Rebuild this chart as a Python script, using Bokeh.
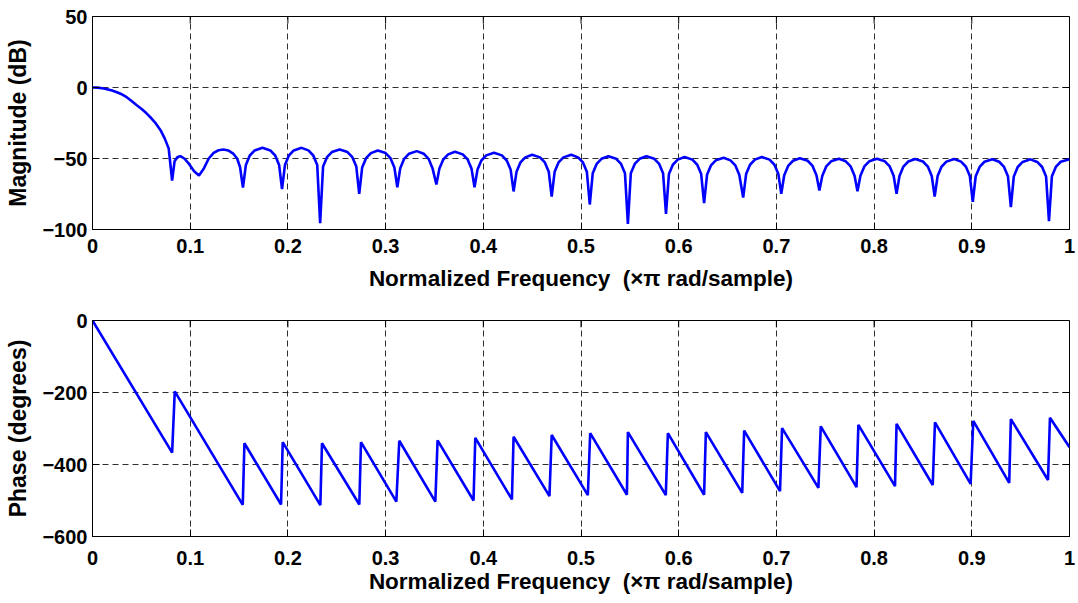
from bokeh.plotting import figure
from bokeh.layouts import column
from bokeh.models import FixedTicker, Range1d
from bokeh.embed import file_html
from bokeh.resources import INLINE

# ---------------- data ----------------
mag_freq = [0, 0.005, 0.01, 0.015, 0.02, 0.025, 0.03, 0.035, 0.04, 0.045, 0.05, 0.055, 0.06, 0.065, 0.07, 0.074, 0.078, 0.0815,
            0.084, 0.087, 0.090, 0.094, 0.099, 0.104, 0.109, 0.114, 0.119, 0.124, 0.129, 0.134, 0.139, 0.144, 0.148, 0.151,
            0.154, 0.157, 0.161, 0.166, 0.174, 0.182, 0.187, 0.191,
            0.194, 0.197, 0.201, 0.206, 0.214, 0.221, 0.226, 0.230,
            0.233, 0.236, 0.240, 0.245, 0.253, 0.261, 0.266, 0.270,
            0.273, 0.276, 0.280, 0.285, 0.292, 0.300, 0.305, 0.309,
            0.312, 0.315, 0.319, 0.324, 0.332, 0.339, 0.344, 0.348,
            0.352, 0.355, 0.359, 0.364, 0.371, 0.379, 0.384, 0.388,
            0.391, 0.394, 0.398, 0.403, 0.411, 0.419, 0.424, 0.428,
            0.431, 0.434, 0.438, 0.443, 0.450, 0.458, 0.463, 0.467,
            0.470, 0.473, 0.477, 0.482, 0.490, 0.497, 0.502, 0.506,
            0.509, 0.512, 0.516, 0.521, 0.528, 0.536, 0.541, 0.545,
            0.548, 0.551, 0.555, 0.560, 0.567, 0.575, 0.580, 0.584,
            0.587, 0.590, 0.594, 0.599, 0.606, 0.614, 0.619, 0.623,
            0.626, 0.629, 0.633, 0.638, 0.646, 0.653, 0.658, 0.662,
            0.666, 0.669, 0.673, 0.678, 0.685, 0.693, 0.698, 0.702,
            0.705, 0.708, 0.712, 0.717, 0.724, 0.732, 0.737, 0.741,
            0.744, 0.747, 0.751, 0.756, 0.764, 0.771, 0.776, 0.780,
            0.783, 0.786, 0.790, 0.795, 0.803, 0.811, 0.816, 0.820,
            0.823, 0.826, 0.830, 0.835, 0.842, 0.850, 0.855, 0.859,
            0.862, 0.865, 0.869, 0.874, 0.882, 0.889, 0.894, 0.898,
            0.901, 0.904, 0.908, 0.913, 0.921, 0.928, 0.933, 0.937,
            0.940, 0.943, 0.947, 0.952, 0.960, 0.967, 0.972, 0.976,
            0.979, 0.982, 0.986, 0.991, 1.0]
mag_db = [0, -0.1, -0.5, -1.2, -2.1, -3.3, -4.8, -6.8, -9.5, -12.3, -15, -18, -21.5, -25.5, -30.5, -36, -43, -65.5,
          -52, -49, -48.4, -50, -54, -59, -62, -57, -50, -46, -44.2, -43.7, -44.3, -46.5, -50, -56,
          -70.5, -54.5, -47.9, -44.3, -42.5, -44.3, -47.9, -54.5,
          -71.6, -54.5, -47.9, -44.3, -42.5, -44.3, -47.9, -54.5,
          -95.5, -55.7, -49.1, -45.5, -43.7, -45.5, -49.1, -55.7,
          -74.9, -56.4, -49.8, -46.2, -44.4, -46.2, -49.8, -56.4,
          -70.2, -56.8, -50.2, -46.6, -44.8, -46.6, -50.2, -56.8,
          -68.3, -57.3, -50.7, -47.1, -45.3, -47.1, -50.7, -57.3,
          -70.2, -58.0, -51.4, -47.8, -46.0, -47.8, -51.4, -58.0,
          -73.2, -59.4, -52.8, -49.2, -47.4, -49.2, -52.8, -59.4,
          -76.8, -59.4, -52.8, -49.2, -47.4, -49.2, -52.8, -59.4,
          -82.4, -60.4, -53.8, -50.2, -48.4, -50.2, -53.8, -60.4,
          -96.0, -60.4, -53.8, -50.2, -48.4, -50.2, -53.8, -60.4,
          -89.0, -61.0, -54.4, -50.8, -49.0, -50.8, -54.4, -61.0,
          -81.5, -61.5, -54.9, -51.3, -49.5, -51.3, -54.9, -61.5,
          -77.5, -61.0, -54.4, -50.8, -49.0, -50.8, -54.4, -61.0,
          -74.9, -61.8, -55.2, -51.6, -49.8, -51.6, -55.2, -61.8,
          -72.5, -62.2, -55.6, -52.0, -50.2, -52.0, -55.6, -62.2,
          -73.0, -62.2, -55.6, -52.0, -50.2, -52.0, -55.6, -62.2,
          -74.9, -62.3, -55.7, -52.1, -50.3, -52.1, -55.7, -62.3,
          -76.8, -62.4, -55.8, -52.2, -50.4, -52.2, -55.8, -62.4,
          -80.5, -62.5, -55.9, -52.3, -50.5, -52.3, -55.9, -62.5,
          -84.3, -62.6, -56.0, -52.4, -50.6, -52.4, -56.0, -62.6,
          -94.1, -62.5, -55.9, -52.3, -50.5]

phase_freq = [0, 0.0815, 0.0842, 0.1538, 0.1555, 0.193, 0.1947, 0.2332, 0.2349, 0.2731, 0.2748, 0.311, 0.314,
              0.3509, 0.3532, 0.390, 0.3918, 0.4293, 0.431, 0.4677, 0.470, 0.507, 0.5094, 0.547, 0.548,
              0.5868, 0.5889, 0.626, 0.6278, 0.665, 0.667, 0.7037, 0.7058, 0.743, 0.7454, 0.782, 0.7839,
              0.8214, 0.823, 0.86, 0.8623, 0.8988, 0.9015, 0.9383, 0.940, 0.978, 0.980, 1.0]
phase_deg = [0, -367, -197, -512, -341, -511, -338, -513, -341, -511, -338, -503, -334,
             -503, -333, -500, -326, -497, -323, -488, -318, -485, -313, -484, -310,
             -485, -313, -484, -310, -479, -306, -474, -299, -465, -294, -463, -290,
             -460, -287, -457, -283, -454, -279, -451, -274, -443, -270, -352]

x_ticks = [0, 0.1, 0.2, 0.3, 0.4, 0.5, 0.6, 0.7, 0.8, 0.9, 1]
x_tick_labels = ["0", "0.1", "0.2", "0.3", "0.4", "0.5", "0.6", "0.7", "0.8", "0.9", "1"]
mag_ticks = [-100, -50, 0, 50]
phase_ticks = [-600, -400, -200, 0]

x_label = "Normalized Frequency\u00a0 (\u00d7\u03c0 rad/sample)"
mag_label = "Magnitude (dB)"
phase_label = "Phase (degrees)"

FONT = "Liberation Sans"
LINE_COLOR = "#0000FF"
FIG_W = 1077
BORDER_L = 92
BORDER_R = 8
TICK_PX = 7


def make_fig(frame_h, border_top, border_bottom, y_lo, y_hi, y_ticks, y_label,
             xtick_standoff, xlabel_standoff):
    p = figure(width=FIG_W, height=border_top + frame_h + border_bottom,
               output_backend="svg", toolbar_location=None,
               x_range=Range1d(0, 1), y_range=Range1d(y_lo, y_hi),
               min_border_left=BORDER_L, min_border_right=BORDER_R,
               min_border_top=border_top, min_border_bottom=border_bottom,
               background_fill_color="white", border_fill_color="white")
    p.outline_line_color = "black"
    p.outline_line_width = 1

    for ax in (p.xaxis[0], p.yaxis[0]):
        ax.major_label_text_font = FONT
        ax.major_label_text_font_style = "bold"
        ax.major_label_text_font_size = "20px"
        ax.major_label_text_color = "black"
        ax.axis_label_text_font = FONT
        ax.axis_label_text_font_style = "bold"
        ax.axis_label_text_color = "black"
        ax.axis_line_color = "black"
        ax.major_tick_line_color = "black"
        ax.major_tick_in = TICK_PX
        ax.major_tick_out = 0
        ax.minor_tick_line_color = None

    p.xaxis[0].ticker = FixedTicker(ticks=x_ticks)
    p.xaxis[0].major_label_overrides = {t: s for t, s in zip(x_ticks, x_tick_labels)}
    p.xaxis[0].axis_label = x_label
    p.xaxis[0].axis_label_text_font_size = "22.5px"
    p.xaxis[0].major_label_standoff = xtick_standoff
    p.xaxis[0].axis_label_standoff = xlabel_standoff

    p.yaxis[0].ticker = FixedTicker(ticks=y_ticks)
    p.yaxis[0].axis_label = y_label
    p.yaxis[0].axis_label_text_font_size = "23px"
    p.yaxis[0].major_label_standoff = 5
    p.yaxis[0].axis_label_standoff = 8

    # inward tick marks on the top and right edges of the box
    frame_w = FIG_W - BORDER_L - BORDER_R
    dx = TICK_PX / frame_w * 1.0
    dy = TICK_PX / frame_h * (y_hi - y_lo)
    p.segment(x0=[1] * len(y_ticks), y0=y_ticks, x1=[1 - dx] * len(y_ticks), y1=y_ticks,
              line_color="black", line_width=1)
    p.segment(x0=x_ticks, y0=[y_hi] * len(x_ticks), x1=x_ticks, y1=[y_hi - dy] * len(x_ticks),
              line_color="black", line_width=1)

    p.grid.grid_line_color = "#1a1a1a"
    p.grid.grid_line_dash = "6 4"
    p.grid.grid_line_width = 1
    p.grid.grid_line_alpha = 0.9
    p.xgrid.ticker = FixedTicker(ticks=x_ticks)
    p.ygrid.ticker = FixedTicker(ticks=y_ticks)
    return p


p1 = make_fig(213, 16, 78, -100, 50, mag_ticks, mag_label, 9, 10)
p1.line(mag_freq, mag_db, line_color=LINE_COLOR, line_width=2.6)

p2 = make_fig(218, 13, 58, -600, 0, phase_ticks, phase_label, 14, 1)
p2.line(phase_freq, phase_deg, line_color=LINE_COLOR, line_width=2.6)

layout = column(p1, p2, spacing=0)
open("out.html", "w").write(file_html(layout, INLINE))
